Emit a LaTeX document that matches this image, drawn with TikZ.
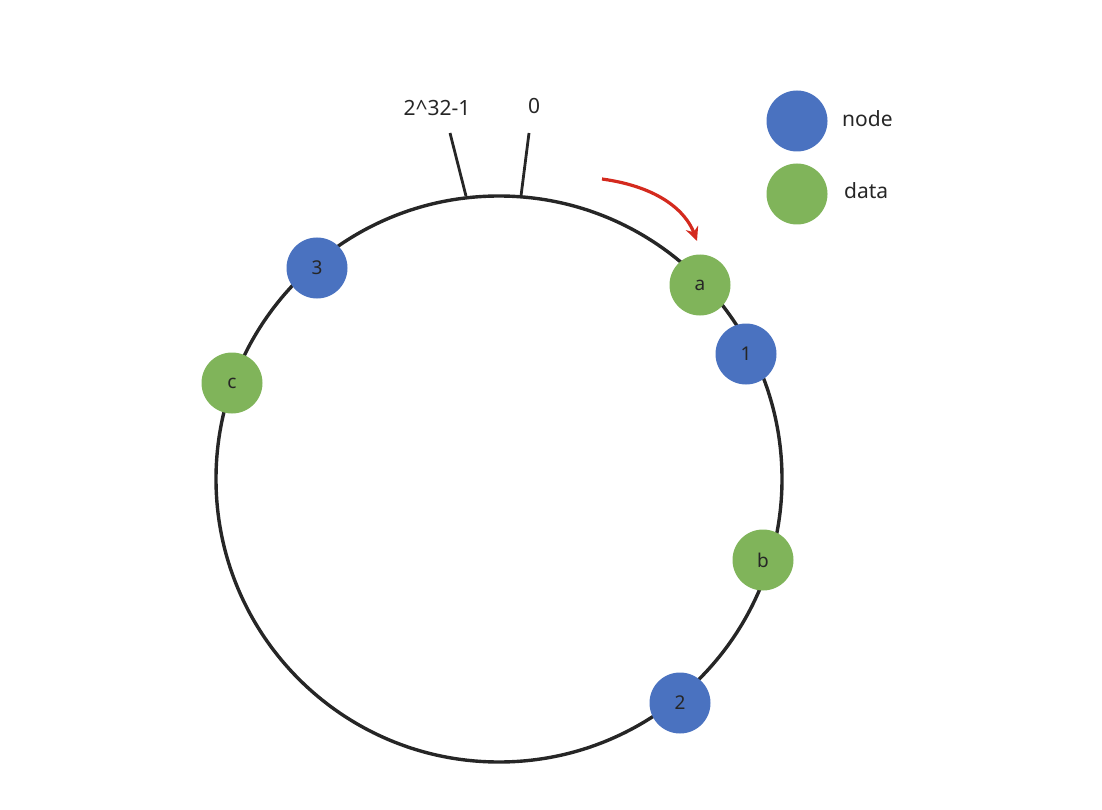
\documentclass[tikz,border=0pt]{standalone}
\usepackage{fontspec}
\setmainfont{Noto Sans}
\usetikzlibrary{arrows.meta}
\definecolor{nodeblue}{HTML}{4A72C0}
\definecolor{datagreen}{HTML}{80B45A}
\definecolor{ringgray}{HTML}{262626}
\definecolor{arrowred}{HTML}{D42A1E}
\tikzset{
  hashnode/.style={circle,fill=nodeblue,minimum size=61pt,inner sep=0pt,text=ringgray,font=\fontsize{19}{22}\selectfont},
  hashdata/.style={circle,fill=datagreen,minimum size=61pt,inner sep=0pt,text=ringgray,font=\fontsize{19}{22}\selectfont},
  ringlabel/.style={inner sep=0pt,text=ringgray,font=\fontsize{21}{24}\selectfont},
}
\begin{document}
\begin{tikzpicture}[x=1pt,y=-1pt]
\useasboundingbox (0,0) rectangle (1102,810);
\draw [ringgray,line width=3.4pt] (499,479) circle (283);
% ticks for the ends of the ring
\coordinate (maxend) at (466,196);
\coordinate (maxtop) at (450,133);
\coordinate (zeroend) at (521,196);
\coordinate (zerotop) at (529,133);
\draw [ringgray,line width=2.8pt] (maxend) -- (maxtop);
\draw [ringgray,line width=2.8pt] (zeroend) -- (zerotop);
\node [ringlabel] (maxlabel) at (437,108) {2\textasciicircum32-1};
\node [ringlabel] (zerolabel) at (534,106) {0};
% direction of the search
\coordinate (turnstart) at (602,179);
\coordinate (turnend) at (697,241);
\draw [arrowred,line width=3.2pt,-{Stealth[length=14pt,width=13pt]}] (turnstart) .. controls (660,187) and (686,212) .. (turnend);
% servers and keys on the ring
\node [hashnode] (n3) at (317,268) {3};
\node [hashnode] (n1) at (746,354) {1};
\node [hashnode] (n2) at (680,703) {2};
\node [hashdata] (da) at (700,285) {a};
\node [hashdata] (db) at (763,560) {b};
\node [hashdata] (dc) at (232,383) {c};
% legend
\node [hashnode] (legnode) at (797,121) {};
\node [hashdata] (legdata) at (797,194) {};
\node [ringlabel,anchor=west] (legnodetext) at (842,119) {node};
\node [ringlabel,anchor=west] (legdatatext) at (844,191) {data};
\end{tikzpicture}
\end{document}
